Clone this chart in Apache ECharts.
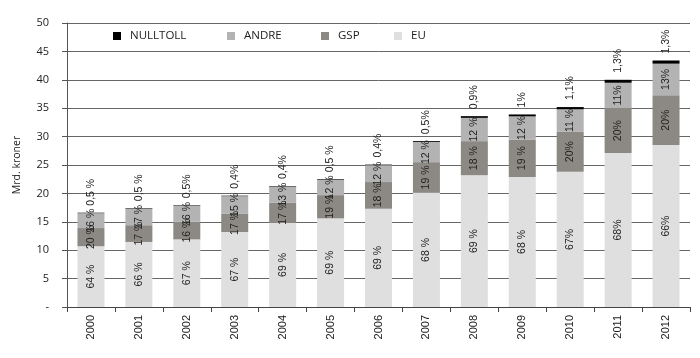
<!DOCTYPE html>
<html>
<head>
<meta charset="utf-8">
<script src="https://cdn.jsdelivr.net/npm/echarts@6/dist/echarts.min.js"></script>
<style>
html,body{margin:0;padding:0;background:#fff;}
#c{width:700px;height:358px;}
</style>
</head>
<body>
<div id="c"></div>
<script>
var years = ['2000','2001','2002','2003','2004','2005','2006','2007','2008','2009','2010','2011','2012'];
var euValues = [10.7, 11.45, 11.9, 13.2, 14.8, 15.6, 17.3, 20.1, 23.2, 22.9, 23.8, 27.1, 28.5];
var gspValues = [3.2, 2.95, 3.1, 3.2, 3.6, 4.1, 4.7, 5.4, 6.0, 6.6, 7.1, 7.9, 8.8];
var andreValues = [2.62, 2.91, 2.81, 3.12, 2.81, 2.69, 2.97, 3.55, 4.1, 4.06, 3.91, 4.48, 5.54];
var nulltollValues = [0.08, 0.09, 0.09, 0.08, 0.09, 0.11, 0.1, 0.15, 0.3, 0.34, 0.39, 0.52, 0.56];
var euLabels = ['64 %','66 %','67 %','67 %','69 %','69 %','69 %','68 %','69 %','68 %','67%','68%','66%'];
var gspLabels = ['20 %','17 %','16 %','17 %','17 %','19 %','18 %','19 %','18 %','19 %','20%','20%','20%'];
var andreLabels = ['16 %','17 %','16 %','15 %','13 %','12 %','12 %','12 %','12 %','12 %','11 %','11%','13%'];
var nulltollLabels = ['0,5 %','0,5 %','0,5%','0,4%','0,4%','0,5 %','0,4%','0,5%','0,9%','1%','1,1%','1,3%','1,3%'];
var yTicks = [0,5,10,15,20,25,30,35,40,45,50];

var names = ['EU','GSP','ANDRE','NULLTOLL'];
var colors = {EU:'#dfdfdf', GSP:'#8c8985', ANDRE:'#b3b3b3', NULLTOLL:'#000000'};
var values = {EU:euValues, GSP:gspValues, ANDRE:andreValues, NULLTOLL:nulltollValues};
var labels = {EU:euLabels, GSP:gspLabels, ANDRE:andreLabels, NULLTOLL:nulltollLabels};

var labelFont = {fontFamily:'Liberation Sans, Arial, sans-serif', fontSize:10.5, color:'#222'};

var series = names.map(function(n){
  var isTop = n === 'NULLTOLL';
  return {
    name:n, type:'bar', stack:'total', barWidth:27,
    itemStyle:{color:colors[n]},
    data: values[n].slice(),
    label:{
      show:true,
      position: isTop ? 'top' : 'inside',
      distance: 7,
      rotate:90,
      align: isTop ? 'left' : 'center',
      verticalAlign:'middle',
      fontFamily:labelFont.fontFamily, fontSize:labelFont.fontSize, color:labelFont.color,
      formatter:function(p){ return labels[n][p.dataIndex]; }
    },
    emphasis:{disabled:true},
    animation:false
  };
});

var legendPos = [
  {name:'NULLTOLL', left:113},
  {name:'ANDRE', left:227},
  {name:'GSP', left:321},
  {name:'EU', left:394}
];
var legends = legendPos.map(function(l){
  return {
    data:[l.name], left:l.left, top:30, padding:0, itemWidth:8, itemHeight:8, icon:'rect',
    selectedMode:false,
    textStyle:{fontFamily:'Open Sans, sans-serif', fontSize:11.5, color:'#222', padding:[0,0,0,4]}
  };
});

var chart = echarts.init(document.getElementById('c'), null, {renderer:'canvas'});
chart.setOption({
  animation:false,
  legend: legends,
  grid:{left:67, right:10, top:23, bottom:51, containLabel:false},
  xAxis:{
    type:'category', data:years, boundaryGap:true,
    axisLine:{lineStyle:{color:'#444', width:1}},
    axisTick:{show:true, length:5, alignWithLabel:false, lineStyle:{color:'#444'}},
    axisLabel:{rotate:90, margin:8, fontFamily:'Liberation Sans, Arial, sans-serif', fontSize:11, color:'#222', interval:0}
  },
  yAxis:{
    type:'value', min:0, max:50, interval:5,
    name:'Mrd. kroner', nameLocation:'middle', nameGap:44, nameRotate:90,
    nameTextStyle:{fontFamily:'Open Sans, sans-serif', fontSize:10.5, color:'#222'},
    axisLine:{show:true, lineStyle:{color:'#555'}},
    axisTick:{show:true, length:5, lineStyle:{color:'#555'}},
    axisLabel:{margin:18, fontFamily:'Open Sans, sans-serif', fontSize:11, color:'#222',
      formatter:function(v){ return yTicks.indexOf(v) === 0 ? '-' : String(v); }},
    splitLine:{show:true, lineStyle:{color:'#666', width:1}}
  },
  series: series
});
</script>
</body>
</html>
